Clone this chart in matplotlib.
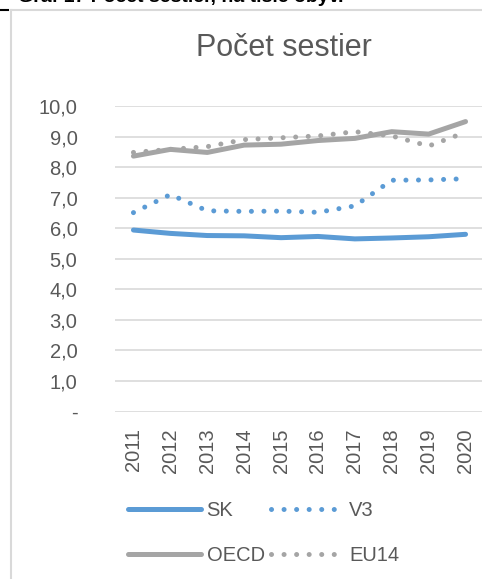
import matplotlib
matplotlib.use("Agg")
import matplotlib.pyplot as plt
from matplotlib.lines import Line2D

# Pocet sestier na tisic obyvatelov, 2011-2020

roky = ['2011', '2012', '2013', '2014', '2015', '2016', '2017', '2018', '2019', '2020']

sk = [5.94, 5.83, 5.76, 5.75, 5.69, 5.73, 5.65, 5.68, 5.72, 5.80]
v3 = [6.51, 7.10, 6.57, 6.55, 6.56, 6.52, 6.73, 7.57, 7.58, 7.62]
oecd = [8.36, 8.58, 8.48, 8.72, 8.75, 8.87, 8.94, 9.16, 9.08, 9.49]
eu14 = [8.48, 8.58, 8.67, 8.90, 8.96, 9.02, 9.16, 9.02, 8.69, 9.14]

y_ticky = [0, 1, 2, 3, 4, 5, 6, 7, 8, 9, 10]
y_popisy = ['-', '1,0', '2,0', '3,0', '4,0', '5,0', '6,0', '7,0', '8,0', '9,0', '10,0']

modra = '#5B9BD5'
seda = '#A5A5A5'
text = '#595959'
bodky = (0, (0.01, 2.5))

plt.rcParams['font.family'] = ['Liberation Sans', 'DejaVu Sans']

fig = plt.figure(figsize=(4.82, 5.79), dpi=100)
ax = fig.add_axes([115 / 482, 1 - 411.5 / 579, 369 / 482, 305.5 / 579])

x = range(len(roky))
l_sk, = ax.plot(x, sk, color=modra, lw=3.6, solid_capstyle='round', label='SK')
l_v3, = ax.plot(x, v3, color=modra, lw=3.6, linestyle=bodky, dash_capstyle='round', label='V3')
l_oecd, = ax.plot(x, oecd, color=seda, lw=3.6, solid_capstyle='round', label='OECD')
l_eu, = ax.plot(x, eu14, color=seda, lw=3.6, linestyle=bodky, dash_capstyle='round', label='EU14')

ax.set_xlim(-0.5, len(roky) - 0.5)
ax.set_ylim(0, 10)
ax.set_yticks(y_ticky)
ax.set_yticklabels(y_popisy)
ax.set_xticks(list(x))
ax.set_xticklabels(roky, rotation=90)
ax.tick_params(axis='y', length=0, pad=27, labelsize=14.5, labelcolor=text)
ax.tick_params(axis='x', length=0, pad=12, labelsize=14.5, labelcolor=text)
ax.grid(axis='y', color='#D9D9D9', lw=1.2)
ax.set_axisbelow(True)
for s in ax.spines.values():
    s.set_visible(False)

fig.text(284 / 482, 1 - 48 / 579, 'Počet sestier', ha='center', va='center',
         fontsize=22, color=text)

# oramovanie grafu a orezany nadpis nad nim
fig.add_artist(Line2D([11 / 482, 11 / 482], [0, 1 - 10 / 579], color='#D9D9D9', lw=1.5))
fig.add_artist(Line2D([11 / 482, 1], [1 - 10 / 579, 1 - 10 / 579], color='#D9D9D9', lw=1.5))
fig.add_artist(Line2D([0, 8 / 482], [1 - 10 / 579, 1 - 10 / 579], color='black', lw=1.5))
fig.text(18 / 482, 1 + 3 / 579, 'Graf 17 Počet sestier, na tisíc obyv.', ha='left', va='center',
         fontsize=14, fontweight='bold', color='black')

# poradie tak, aby v riadkoch boli SK, V3 / OECD, EU14
fig.legend([l_sk, l_oecd, l_v3, l_eu], ['SK', 'OECD', 'V3', 'EU14'],
           loc='upper left', bbox_to_anchor=(128 / 482, 1 - 501 / 579), ncol=2,
           frameon=False, fontsize=14.5, labelcolor=text, handlelength=3.6,
           handletextpad=0.3, columnspacing=0.3, labelspacing=1.3,
           borderpad=0, borderaxespad=0)

fig.savefig('out.png', dpi=100)
